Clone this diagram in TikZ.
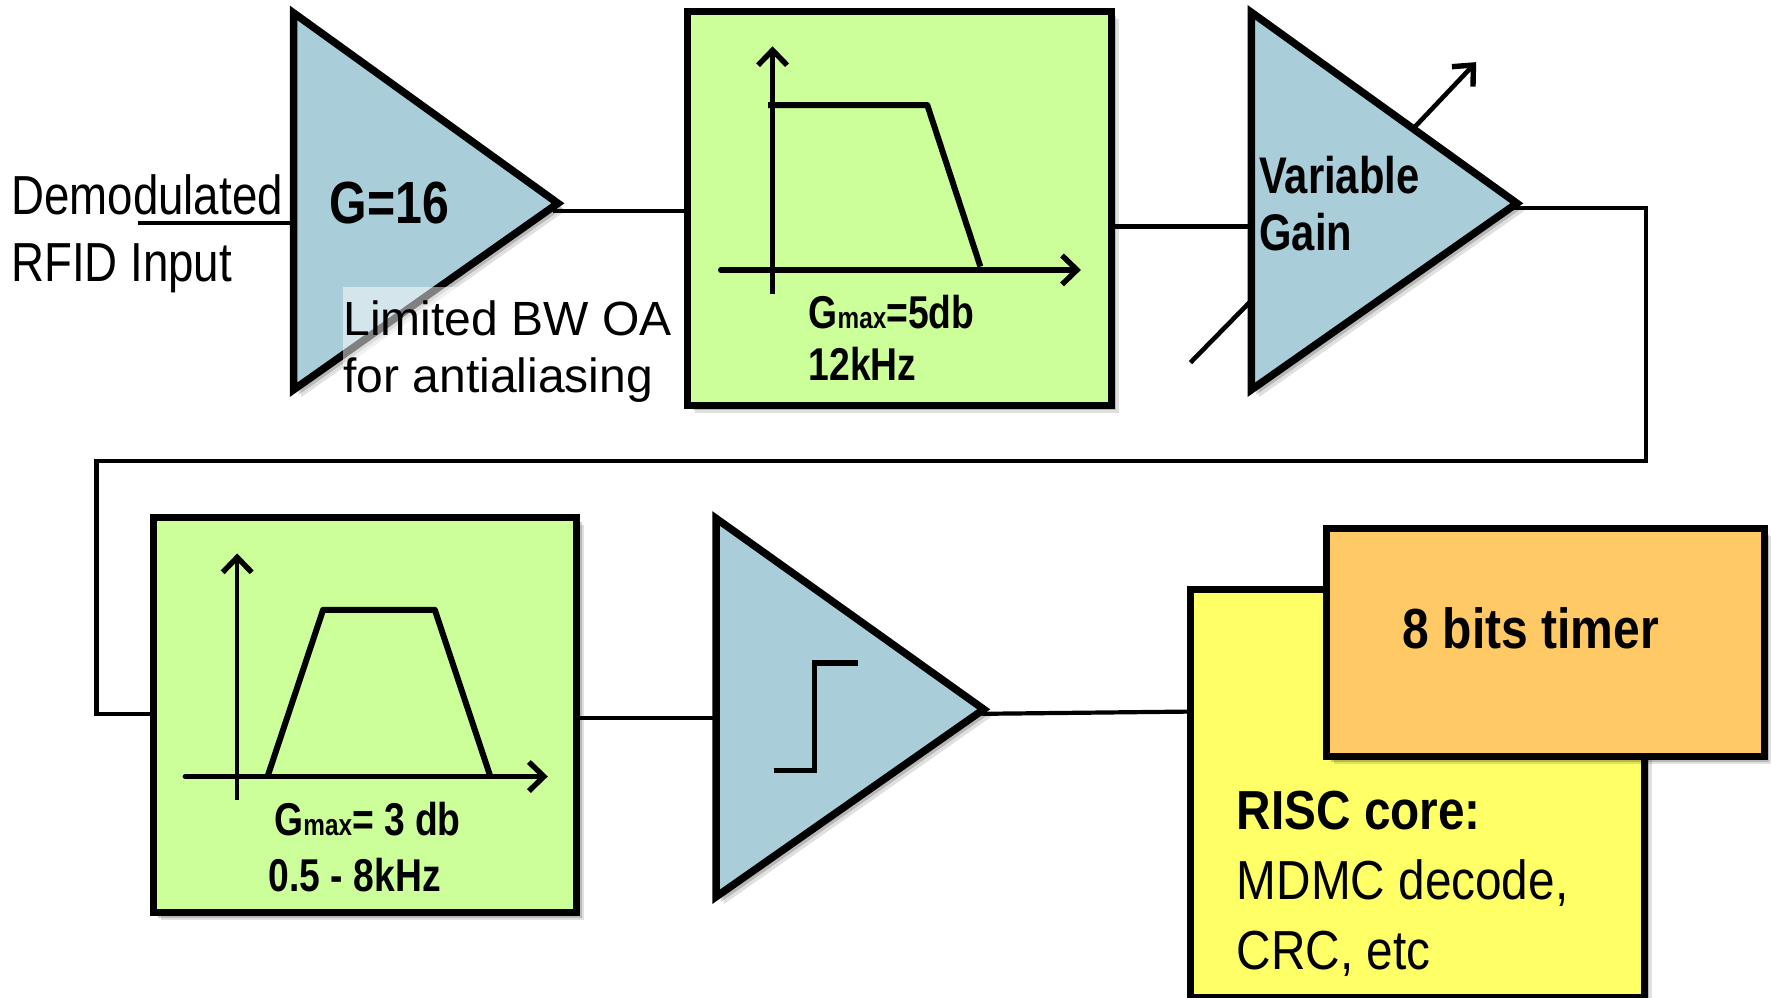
\documentclass[tikz,border=0pt]{standalone}
\usepackage{fontspec}
\setmainfont{Liberation Sans}
\newfontfamily\regn[FakeStretch=0.83]{Liberation Sans}
\newfontfamily\regm[FakeStretch=0.868]{Liberation Sans}
\newfontfamily\regw[FakeStretch=1.0]{Liberation Sans}
\newfontfamily\bldn[FakeStretch=0.81]{Liberation Sans Bold}
\newfontfamily\bldm[FakeStretch=0.85]{Liberation Sans Bold}
\newfontfamily\bldr[FakeStretch=0.868]{Liberation Sans Bold}
\usetikzlibrary{arrows.meta,shadows,calc}
\definecolor{ampblue}{HTML}{A9CDD9}
\definecolor{filtgreen}{HTML}{CCFF99}
\definecolor{coreyellow}{HTML}{FFFF66}
\definecolor{timerorange}{HTML}{FFC966}
\tikzset{
  softshadow/.style={
    drop shadow={shadow xshift=2.5pt,shadow yshift=-2.5pt,fill=black,opacity=.22},
    drop shadow={shadow xshift=5pt,shadow yshift=-5pt,fill=black,opacity=.18},
    drop shadow={shadow xshift=7.5pt,shadow yshift=-7.5pt,fill=black,opacity=.12}},
  wire/.style={line width=4.2pt,line cap=butt,line join=miter},
  amp/.style={draw=black,fill=ampblue,line width=7.5pt,line join=miter,miter limit=10,softshadow},
  blockbox/.style={draw=black,line width=7pt,inner sep=0pt,outer sep=0pt,softshadow},
  axisv/.style={line width=4.6pt,-{Straight Barb[length=15pt,width=29pt,line width=5.4pt]}},
  axish/.style={line width=5.2pt,line cap=round,-{Straight Barb[length=15pt,width=29pt,line width=5.4pt]}},
  curveline/.style={line width=6pt,line join=round},
  lab/.style={anchor=base west,inner sep=0pt,outer sep=0pt,text=black},
}
\begin{document}
\begin{tikzpicture}[x=1.1295pt,y=-1.1295pt]
\useasboundingbox (0,0) rectangle (1568,883.6);
% named points
\coordinate (in) at (122,197.5);
\coordinate (inend) at (260,197.5);
\coordinate (t1a) at (260,11.5);
\coordinate (t1b) at (260,345);
\coordinate (t1c) at (494,180);
\coordinate (t1out) at (490,187);
\coordinate (t3a) at (1108,11);
\coordinate (t3b) at (1108,345);
\coordinate (t3c) at (1343,180);
\coordinate (t3in) at (1108,200.5);
\coordinate (t3out) at (1340,184.5);
\coordinate (c1) at (1457,184.5);
\coordinate (c2) at (1457,408);
\coordinate (c3) at (85.5,408);
\coordinate (c4) at (85.5,632.5);
\coordinate (t5a) at (634,459);
\coordinate (t5b) at (634,794);
\coordinate (t5c) at (871,628);
\coordinate (t5in) at (634,636);
\coordinate (t5out) at (869,632);
\coordinate (corein) at (1054,630);
\coordinate (gainup0) at (1253,112);
\coordinate (gainup1) at (1307,55);
\coordinate (gainlo0) at (1054,321);
\coordinate (gainlo1) at (1108,266);

% boxes
\node[blockbox,fill=filtgreen,minimum width=423.6pt,minimum height=394.2pt,anchor=center] (lp) at (796.5,184.5) {};
\node[blockbox,fill=filtgreen,minimum width=423.6pt,minimum height=395.3pt,anchor=center] (bp) at (323,633) {};

% connectors
\draw[wire] (in) -- (inend);
\draw[wire] (t1out) -- (lp.west |- t1out);
\draw[wire] (lp.east |- t3in) -- (t3in);
\draw[wire] (t3out) -- (c1) -- (c2) -- (c3) -- (c4) -- (bp.west |- c4);
\draw[wire] (bp.east |- t5in) -- (t5in);
\draw[wire] (t5out) -- (corein);
\draw[line width=4.6pt,-{Straight Barb[length=16pt,width=29pt,line width=5.4pt]}] (gainup0) -- (gainup1);
\draw[line width=4.6pt] (gainlo0) -- (gainlo1);

% amplifiers
\path[amp] (t1a) -- (t1b) -- (t1c) -- cycle;
\path[amp] (t3a) -- (t3b) -- (t3c) -- cycle;
\path[amp] (t5a) -- (t5b) -- (t5c) -- cycle;

% low-pass chart
\coordinate (lpv0) at (684,260); \coordinate (lpv1) at (684,41);
\coordinate (lph0) at (638,239); \coordinate (lph1) at (957,239);
\coordinate (lpc0) at (680,93); \coordinate (lpc1) at (821,93); \coordinate (lpc2) at (868,236);
\draw[axisv] (lpv0) -- (lpv1);
\draw[axish] (lph0) -- (lph1);
\draw[curveline] (lpc0) -- (lpc1) -- (lpc2);

% band-pass chart
\coordinate (bpv0) at (210,708); \coordinate (bpv1) at (210,490);
\coordinate (bph0) at (164,687.5); \coordinate (bph1) at (485,687.5);
\coordinate (bpc0) at (237,687); \coordinate (bpc1) at (286,540); \coordinate (bpc2) at (385,540); \coordinate (bpc3) at (434,687);
\draw[axisv] (bpv0) -- (bpv1);
\draw[axish] (bph0) -- (bph1);
\draw[curveline] (bpc0) -- (bpc1) -- (bpc2) -- (bpc3);

% comparator step
\coordinate (st0) at (685,682); \coordinate (st1) at (721,682); \coordinate (st2) at (721,587); \coordinate (st3) at (760,587);
\draw[line width=5.6pt,line join=miter] (st0) -- (st1) -- (st2) -- (st3);

% core and timer
\node[blockbox,fill=coreyellow,minimum width=454pt,minimum height=408pt,anchor=north west] (core) at (1054,522) {};
\node[blockbox,fill=timerorange,minimum width=438pt,minimum height=228pt,anchor=north west] (timer) at (1174,468) {};

% translucent text background
\fill[white,opacity=.5] (304,254) rectangle (600,360);

% texts
\node[lab,font=\regn\fontsize{55}{60}\selectfont] (tdemod) at (10,190) {Demodulated};
\node[lab,font=\regn\fontsize{55}{60}\selectfont] (trfid) at (10,249) {RFID Input};
\node[lab,font=\bldn\fontsize{59.5}{60}\selectfont] (tg) at (292,197.5) {G=16};
\node[lab,font=\regw\fontsize{48}{50}\selectfont] (tlim) at (304,297) {Limited BW OA};
\node[lab,font=\regw\fontsize{48}{50}\selectfont] (tfor) at (304,347.5) {for antialiasing};
\node[lab,font=\bldn\fontsize{51.5}{55}\selectfont] (tvar) at (1115,171) {Variable};
\node[lab,font=\bldn\fontsize{51.5}{55}\selectfont] (tgain) at (1115,222) {Gain};
\node[lab,font=\bldn\fontsize{46}{50}\selectfont] (tg5) at (716,291) {G{\fontsize{30}{30}\selectfont max}=5db};
\node[lab,font=\bldn\fontsize{46}{50}\selectfont] (t12) at (716,337) {12kHz};
\node[lab,font=\bldn\fontsize{46}{50}\selectfont] (tg3) at (243,740) {G{\fontsize{30}{30}\selectfont max}= 3 db};
\node[lab,font=\bldn\fontsize{46}{50}\selectfont] (t05) at (238,789) {0.5 - 8kHz};
\node[lab,font=\bldm\fontsize{56.5}{60}\selectfont] (t8) at (1242,574) {8 bits timer};
\node[lab,font=\bldr\fontsize{55}{60}\selectfont] (trisc) at (1095,734) {RISC core:};
\node[lab,font=\regm\fontsize{55}{60}\selectfont] (tmdmc) at (1095,796) {MDMC decode,};
\node[lab,font=\regm\fontsize{55}{60}\selectfont] (tcrc) at (1095,858) {CRC, etc};
\end{tikzpicture}
\end{document}
